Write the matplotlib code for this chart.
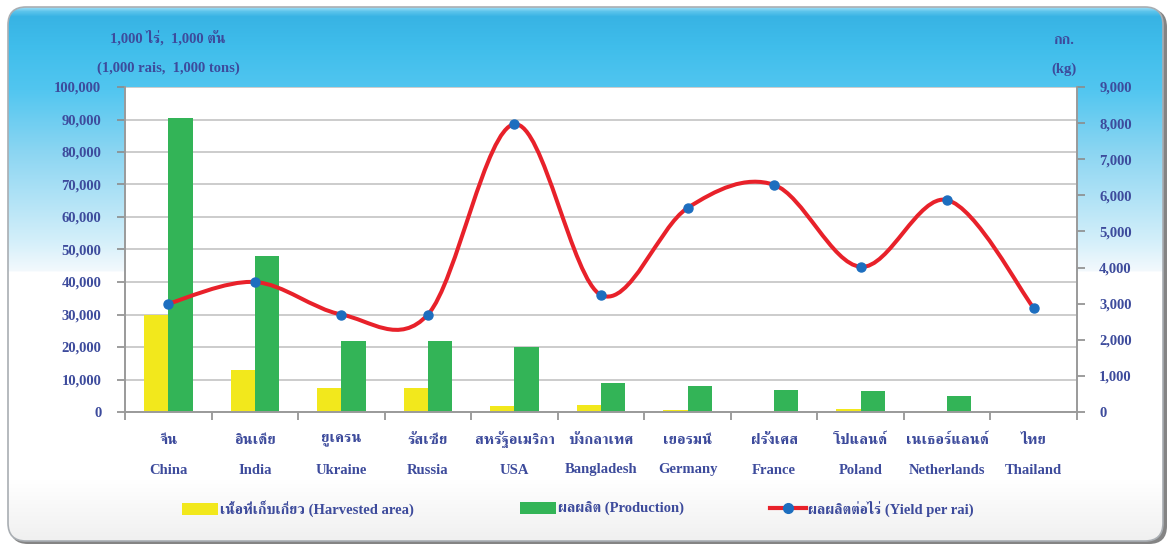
import matplotlib
matplotlib.use('Agg')
import matplotlib.pyplot as plt
import numpy as np
from matplotlib.patches import FancyBboxPatch, Patch, PathPatch
from matplotlib.lines import Line2D
from matplotlib.path import Path
from matplotlib.font_manager import FontProperties
import matplotlib.transforms as mtransforms

# data
thai_names = ['จีน', 'อินเดีย', 'ยูเครน', 'รัสเซีย', 'สหรัฐอเมริกา', 'บังกลาเทศ',
              'เยอรมนี', 'ฝรั่งเศส', 'โปแลนด์', 'เนเธอร์แลนด์', 'ไทย']
eng_names = ['China', 'India', 'Ukraine', 'Russia', 'USA', 'Bangladesh',
             'Germany', 'France', 'Poland', 'Netherlands', 'Thailand']
area = [29800, 13000, 7400, 7400, 1800, 2200, 700, 400, 1000, 400, 40]
production = [90500, 48000, 21800, 21800, 20000, 8800, 8100, 6800, 6500, 4900, 80]
yld = [3000, 3600, 2700, 2700, 7970, 3240, 5650, 6290, 4020, 5870, 2880]

left_ticks = np.arange(0, 100001, 10000)
right_ticks = np.arange(0, 9001, 1000)

FAM = ['Liberation Serif', 'FreeSerif', 'DejaVu Sans']
TXT = '#3D4B9C'
YEL = '#F2E81C'
GRN = '#33B457'
RED = '#E8212A'
BLU = '#1D6EBF'

plt.rcParams['font.family'] = FAM
plt.rcParams['font.weight'] = 'bold'

fig = plt.figure(figsize=(11.71, 5.45), dpi=100)

# ---- background panel (pixel coords) ----
bg = fig.add_axes([0, 0, 1, 1], zorder=-10)
bg.axis('off')

shadow = FancyBboxPatch((10, 9), 1157, 535, boxstyle='round,pad=0,rounding_size=18',
                        fc='#6E6E6E', ec='none', alpha=0.85, zorder=1)
bg.add_patch(shadow)
panel = FancyBboxPatch((8, 7), 1155, 534, boxstyle='round,pad=0,rounding_size=18',
                       fc='white', ec='none', zorder=2)
bg.add_patch(panel)

stops_y = [7, 11, 16, 45, 90, 150, 200, 240, 262, 271, 272, 480, 541]
stops_c = ['#9BDDF5', '#5CC4EC', '#38B3E4', '#3FBDEB', '#52C6F0', '#8AD5F2',
           '#B2E3F6', '#D3EFFA', '#EAF6FC', '#F3F9FD', '#FFFFFF', '#FFFFFF', '#F0F0F0']
rgb = np.array([matplotlib.colors.to_rgb(c) for c in stops_c])
yy = np.arange(7, 542)
grad = np.stack([np.interp(yy, stops_y, rgb[:, k]) for k in range(3)], axis=-1)
im = bg.imshow(grad[:, None, :], extent=(8, 1163, 541, 7), aspect='auto',
               interpolation='bilinear', zorder=3)
im.set_clip_path(panel)
border = FancyBboxPatch((8, 7), 1155, 534, boxstyle='round,pad=0,rounding_size=18',
                        fc='none', ec='#A9AEB3', lw=1.2, zorder=4)
bg.add_patch(border)
bg.set_xlim(0, 1171)
bg.set_ylim(545, 0)

# ---- main axes ----
L, R, T, B = 125, 1077, 87, 412
ax = fig.add_axes([L / 1171, 1 - B / 545, (R - L) / 1171, (B - T) / 545])
ax.set_facecolor('white')
x = np.arange(len(eng_names))
w = 0.28
ax.bar(x - w / 2, area, w, color=YEL, zorder=2)
ax.bar(x + w / 2, production, w, color=GRN, zorder=2)
ax.set_xlim(-0.5, len(x) - 0.5)
ax.set_ylim(0, 100000)
ax.set_yticks(left_ticks)
ax.set_yticklabels(['{:,}'.format(v) for v in left_ticks])
ax.yaxis.grid(True, color='#C4C4C4', lw=1.2)
ax.set_axisbelow(True)

ax.set_xticks(x)
ax.set_xticklabels([])
ax.tick_params(axis='x', which='major', length=0)
ax.set_xticks(np.arange(-0.5, len(x)), minor=True)
ax.tick_params(axis='x', which='minor', length=6, color='#8C8C8C', width=1.2,
               direction='out')
ax.tick_params(axis='y', length=6, color='#8C8C8C', width=1.2, pad=11,
               labelsize=10.5, labelcolor=TXT)
for s in ['left', 'right', 'bottom']:
    ax.spines[s].set_color('#9A9A9A')
    ax.spines[s].set_linewidth(1.2)
ax.spines['top'].set_visible(False)

trans = mtransforms.blended_transform_factory(ax.transData, ax.transAxes)
for i in range(len(x)):
    ax.text(x[i], (B - 440) / (B - T), thai_names[i], transform=trans, ha='center',
            va='center', fontsize=11, color=TXT)
    ax.text(x[i], (B - 470) / (B - T), eng_names[i], transform=trans, ha='center',
            va='center', fontsize=10.5, color=TXT)

# ---- yield axis ----
ax2 = ax.twinx()
ax2.set_ylim(0, 9000)
ax2.set_yticks(right_ticks)
ax2.set_yticklabels(['{:,}'.format(v) for v in right_ticks])
ax2.tick_params(axis='y', length=6, color='#8C8C8C', width=1.2, pad=10,
                labelsize=10.5, labelcolor=TXT)
for s in ['left', 'right', 'bottom']:
    ax2.spines[s].set_color('#9A9A9A')
    ax2.spines[s].set_linewidth(1.2)
ax2.spines['top'].set_visible(False)

# smoothed line (cubic bezier segments, spreadsheet-style smoothing)
pts = np.column_stack([x, yld]).astype(float)
ext = np.vstack([pts[0], pts, pts[-1]])
verts = [tuple(pts[0])]
codes = [Path.MOVETO]
for i in range(len(pts) - 1):
    p0, p1, p2, p3 = ext[i], ext[i + 1], ext[i + 2], ext[i + 3]
    c1 = p1 + (p2 - p0) / 6
    c2 = p2 - (p3 - p1) / 6
    verts += [tuple(c1), tuple(c2), tuple(p2)]
    codes += [Path.CURVE4] * 3
ax2.add_patch(PathPatch(Path(verts, codes), fill=False, ec=RED, lw=2.9,
                        capstyle='round', joinstyle='round', zorder=3))
ax2.plot(x, yld, 'o', color=BLU, ms=6.5, zorder=4)

# ---- unit labels ----
fig.text(168 / 1171, 1 - 38 / 545, '1,000 ไร่,  1,000 ตัน', ha='center', va='center',
         fontsize=10.5, color=TXT)
fig.text(168 / 1171, 1 - 68 / 545, '(1,000 rais,  1,000 tons)', ha='center',
         va='center', fontsize=10.5, color=TXT)
fig.text(1064 / 1171, 1 - 40 / 545, 'กก.', ha='center', va='center',
         fontsize=10.5, color=TXT)
fig.text(1064 / 1171, 1 - 69 / 545, '(kg)', ha='center', va='center',
         fontsize=10.5, color=TXT)

# ---- legend ----
prop = FontProperties(family=FAM, weight='bold', size=10.5)
items = [
    (Patch(fc=YEL, ec='none'), 'เนื้อที่เก็บเกี่ยว (Harvested area)', 182),
    (Patch(fc=GRN, ec='none'), 'ผลผลิต (Production)', 520),
    (Line2D([], [], color=RED, lw=3, marker='o', mfc=BLU, mec=BLU, ms=7),
     'ผลผลิตต่อไร่ (Yield per rai)', 770),
]
for h, lab, px in items:
    leg = fig.legend([h], [lab], loc='center left', bbox_to_anchor=(px / 1171, 1 - 509 / 545),
                     frameon=False, borderpad=0, borderaxespad=0, prop=prop,
                     handlelength=2.5, handleheight=0.9, handletextpad=0.1)
    for t in leg.get_texts():
        t.set_color(TXT)

fig.savefig('out.png', dpi=100)
